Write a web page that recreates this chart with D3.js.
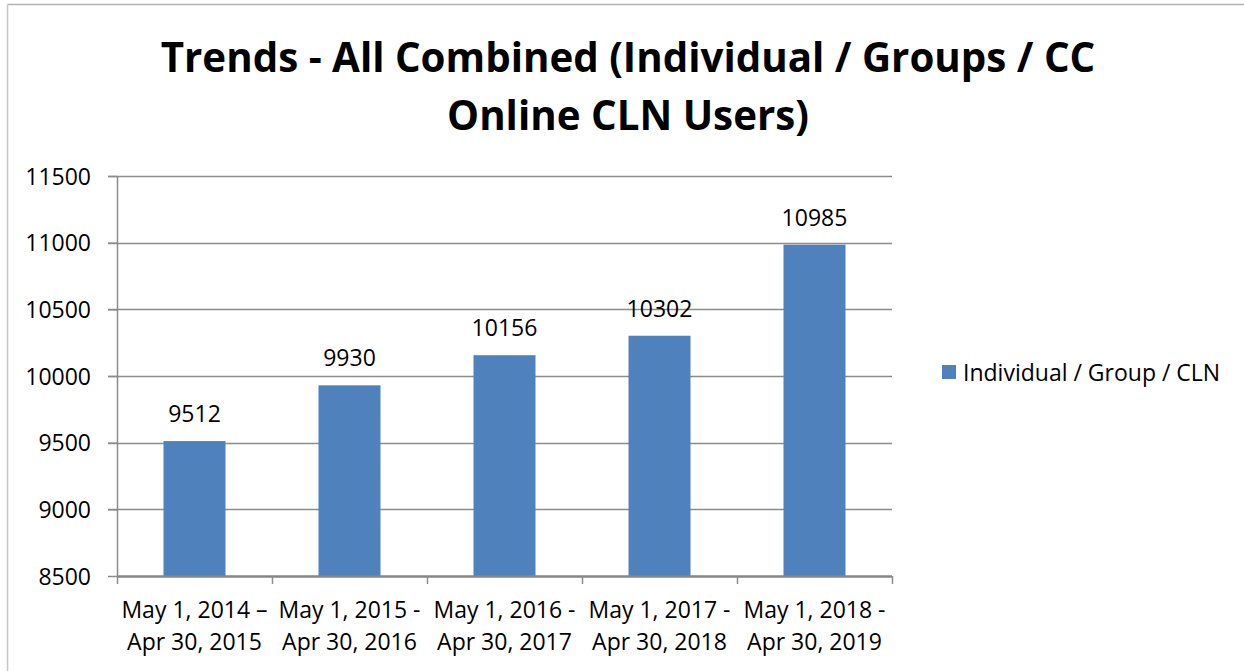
<!DOCTYPE html>
<html>
<head>
<meta charset="utf-8">
<script src="https://cdn.jsdelivr.net/npm/d3@7"></script>
<style>
  body { margin: 0; background: #fff; }
  svg text { font-family: "Open Sans", "Liberation Sans", sans-serif; fill: #000; }
</style>
</head>
<body>
<svg width="1244" height="671"></svg>
<script>
// Chart values
var categories = [
    ["May 1, 2014 \u2013", "Apr 30, 2015"],
    ["May 1, 2015 -", "Apr 30, 2016"],
    ["May 1, 2016 -", "Apr 30, 2017"],
    ["May 1, 2017 -", "Apr 30, 2018"],
    ["May 1, 2018 -", "Apr 30, 2019"]
];
var values = [9512, 9930, 10156, 10302, 10985];
var yTicks = [8500, 9000, 9500, 10000, 10500, 11000, 11500];
var seriesName = "Individual / Group / CLN";
var titleLines = ["Trends - All Combined (Individual / Groups / CC", "Online CLN Users)"];

var svg = d3.select("svg");
var margin = {top: 176, left: 117, right: 352, bottom: 95};
var width = 1244 - margin.left - margin.right,
    height = 671 - margin.top - margin.bottom;
var fontSize = 23;

// outer frame (only top and left visible in reference)
svg.append("line").attr("x1", 7.5).attr("y1", 4.5).attr("x2", 1244).attr("y2", 4.5)
    .attr("stroke", "#b3b3b3").attr("stroke-width", 1.5);
svg.append("line").attr("x1", 7.5).attr("y1", 4.5).attr("x2", 7.5).attr("y2", 671)
    .attr("stroke", "#c8c8c8").attr("stroke-width", 1.5);

// title, sized so the first line spans the same width as in the reference
var title = svg.append("g");
var titleFs = 40;
titleLines.forEach(function(t, i) {
    var el = title.append("text")
        .attr("x", 628)
        .attr("y", 72 + i * 58)
        .attr("text-anchor", "middle")
        .attr("font-weight", "bold")
        .attr("font-size", titleFs)
        .text(t);
    if (i === 0) {
        titleFs = 40 * 935 / el.node().getComputedTextLength();
        el.attr("font-size", titleFs);
    }
});

var chart = svg.append("g")
    .attr("transform", "translate(" + margin.left + "," + margin.top + ")");

var x = d3.scaleBand().domain(d3.range(values.length)).range([0, width]).paddingInner(0.6).paddingOuter(0.3);
var xCat = d3.scaleBand().domain(d3.range(values.length)).range([0, width]);
var y = d3.scaleLinear().domain([8500, 11500]).range([height, 0]);

// gridlines
chart.selectAll("line.grid")
    .data(yTicks.slice(1))
    .enter().append("line")
    .attr("class", "grid")
    .attr("x1", -9).attr("x2", width)
    .attr("y1", function(d) { return Math.round(y(d)) + 0.5; })
    .attr("y2", function(d) { return Math.round(y(d)) + 0.5; })
    .attr("stroke", "#8c8c8c").attr("stroke-width", 1.5);

// y axis
var yAxis = d3.axisLeft(y).tickValues(yTicks).tickSize(9).tickPadding(17).tickFormat(d3.format("d"));
var gy = chart.append("g").call(yAxis);
gy.select(".domain").attr("stroke", "#8c8c8c").attr("stroke-width", 1.5).attr("d", "M0.5," + height + "V0");
gy.selectAll(".tick line").attr("stroke", "#8c8c8c").attr("stroke-width", 1.5);
gy.selectAll(".tick text").attr("font-size", fontSize).attr("fill", "#000").attr("dy", "0.35em")
    .style("font-family", "'Open Sans', sans-serif");

// bars
chart.selectAll("rect.bar")
    .data(values)
    .enter().append("rect")
    .attr("class", "bar")
    .attr("x", function(d, i) { return x(i); })
    .attr("width", x.bandwidth())
    .attr("y", function(d) { return y(d); })
    .attr("height", function(d) { return height - y(d); })
    .attr("fill", "#4f81bd");

// value labels
chart.selectAll("text.val")
    .data(values)
    .enter().append("text")
    .attr("class", "val")
    .attr("x", function(d, i) { return x(i) + x.bandwidth() / 2; })
    .attr("y", function(d) { return y(d) - 19; })
    .attr("text-anchor", "middle")
    .attr("font-size", fontSize)
    .text(function(d) { return d; });

// x axis
chart.append("line")
    .attr("x1", 0).attr("x2", width)
    .attr("y1", height + 0.5).attr("y2", height + 0.5)
    .attr("stroke", "#868686").attr("stroke-width", 2.5);
chart.selectAll("line.xtick")
    .data(d3.range(values.length + 1))
    .enter().append("line")
    .attr("class", "xtick")
    .attr("x1", function(d) { return d * xCat.step() + 0.5; })
    .attr("x2", function(d) { return d * xCat.step() + 0.5; })
    .attr("y1", height).attr("y2", height + 8)
    .attr("stroke", "#8c8c8c").attr("stroke-width", 1.5);

var xl = chart.selectAll("g.xlab")
    .data(categories)
    .enter().append("g")
    .attr("class", "xlab")
    .attr("transform", function(d, i) { return "translate(" + (xCat(i) + xCat.bandwidth() / 2) + "," + height + ")"; });
xl.each(function(lines) {
    var g = d3.select(this);
    lines.forEach(function(l, j) {
        g.append("text")
            .attr("y", 42 + j * 32)
            .attr("text-anchor", "middle")
            .attr("font-size", fontSize)
            .text(l);
    });
});

// legend
var legend = svg.append("g").attr("transform", "translate(942,365)");
legend.append("rect").attr("width", 14).attr("height", 14).attr("fill", "#4f81bd");
legend.append("text").attr("x", 21).attr("y", 16).attr("font-size", fontSize).text(seriesName);
</script>
</body>
</html>
